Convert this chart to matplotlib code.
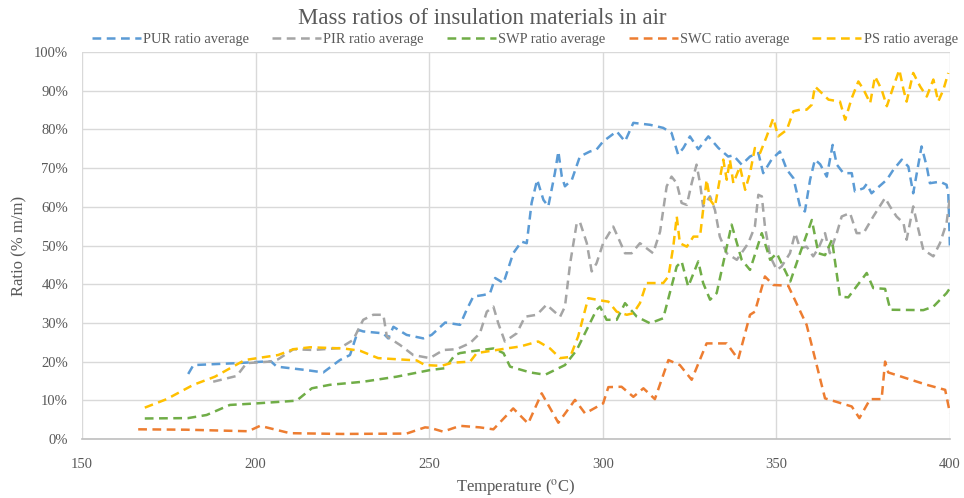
import matplotlib.pyplot as plt
from matplotlib.ticker import PercentFormatter

# temperature (C) and ratio (%), one pair of lists per material
pur_t = [180.6, 182.1, 194.6, 202.2, 204.5, 206.1, 214.7, 219.5, 224.3, 227.2, 229.6, 231.0, 236.8, 238.2,
         239.7, 243.5, 248.3, 250.7, 254.6, 258.9, 260.8, 262.7, 265.6, 267.5, 269.0, 271.4, 274.2, 276.6,
         278.1, 279.5, 281.1, 282.9, 284.3, 286.2, 287.2, 288.2, 289.1, 291.1, 293.4, 296.3, 298.2, 300.1,
         304.0, 306.4, 308.8, 313.6, 317.4, 319.8, 321.7, 323.2, 325.1, 327.5, 330.4, 333.3, 336.1, 337.6,
         340.0, 342.4, 344.8, 346.2, 348.6, 351.0, 353.0, 354.9, 356.8, 358.2, 359.7, 361.1, 362.6, 364.5,
         366.2, 367.4, 369.3, 371.7, 372.6, 375.1, 376.0, 377.4, 379.0, 381.8, 383.7, 386.1, 388.0, 389.4,
         391.8, 393.3, 394.2, 397.1, 399.0, 399.5, 400.0]
pur_v = [16.8, 19.1, 19.6, 20.0, 20.0, 18.7, 17.8, 17.2, 20.4, 21.7, 28.2, 27.8, 27.3, 26.0,
         29.0, 26.9, 26.0, 26.9, 30.1, 29.5, 33.4, 36.8, 37.2, 37.6, 41.6, 40.3, 48.0, 51.0,
         50.6, 61.0, 67.0, 61.8, 60.1, 68.7, 74.3, 67.8, 65.3, 67.0, 73.0, 74.3, 74.8, 76.9,
         79.5, 76.9, 81.7, 81.2, 80.4, 79.1, 73.5, 75.2, 78.2, 74.9, 78.2, 75.2, 73.0, 73.3,
         70.9, 73.0, 73.9, 68.7, 72.2, 74.3, 69.6, 67.4, 60.1, 58.8, 67.0, 72.2, 71.0, 67.8,
         76.0, 70.9, 68.7, 68.7, 64.0, 64.8, 65.9, 63.5, 64.8, 67.0, 69.6, 72.2, 70.4, 63.5,
         75.6, 70.4, 66.1, 66.5, 65.7, 63.5, 48.9]

pir_t = [187.8, 194.6, 197.4, 204.1, 206.5, 210.9, 216.6, 224.3, 228.1, 231.0, 233.9, 236.8, 237.8, 241.6,
         245.4, 250.2, 254.1, 257.9, 261.8, 264.6, 266.6, 268.5, 269.9, 271.8, 275.2, 277.6, 281.0, 283.8,
         287.7, 289.1, 290.6, 292.5, 293.4, 295.4, 296.8, 298.2, 300.1, 303.0, 304.5, 306.4, 308.3, 310.7,
         314.5, 316.5, 318.4, 319.8, 321.3, 322.7, 324.2, 325.6, 327.0, 328.0, 328.9, 330.9, 332.3, 333.7,
         335.7, 338.6, 341.9, 343.8, 344.8, 345.8, 346.7, 348.2, 350.1, 351.5, 353.9, 355.4, 356.8, 358.7,
         360.6, 362.1, 364.0, 365.4, 367.4, 368.8, 371.2, 373.1, 375.1, 377.9, 381.3, 382.7, 384.6, 386.6,
         387.5, 389.4, 390.9, 392.3, 395.2, 397.1, 399.0, 400.0]
pir_v = [14.8, 16.3, 19.6, 20.0, 20.6, 23.2, 23.0, 23.5, 25.6, 30.8, 32.1, 32.1, 26.5, 24.3,
         21.7, 20.9, 23.0, 23.2, 24.8, 27.3, 32.9, 34.2, 29.9, 25.2, 27.3, 31.6, 32.1, 34.7,
         31.6, 34.2, 45.4, 55.8, 56.1, 50.6, 43.3, 45.4, 50.6, 54.9, 51.9, 48.0, 48.0, 50.6,
         48.0, 53.6, 65.3, 67.8, 66.1, 61.0, 60.5, 66.1, 70.9, 66.1, 60.1, 62.7, 59.2, 52.3,
         48.0, 46.3, 50.6, 54.9, 63.1, 62.7, 54.9, 47.2, 43.7, 44.6, 48.0, 53.2, 49.3, 49.7,
         47.2, 49.3, 53.2, 48.0, 53.2, 57.5, 58.4, 53.2, 53.2, 57.5, 62.3, 60.1, 57.5, 55.8,
         51.5, 60.1, 54.1, 48.9, 47.2, 50.6, 55.8, 62.7]

swp_t = [168.1, 180.6, 185.9, 192.6, 200.3, 211.8, 216.2, 221.4, 231.0, 240.6, 250.2, 254.6, 257.4, 258.9,
         261.8, 268.5, 271.4, 273.3, 279.1, 283.4, 289.1, 292.5, 298.2, 299.2, 301.1, 304.0, 306.4, 309.8,
         313.6, 317.4, 321.3, 322.7, 324.6, 327.5, 328.9, 330.9, 332.8, 337.1, 340.0, 342.4, 345.8, 348.2,
         350.1, 354.0, 356.8, 360.2, 362.1, 364.0, 366.0, 368.3, 370.7, 376.0, 377.9, 381.3, 382.8, 392.3,
         395.2, 399.0, 400.0]
swp_v = [5.3, 5.4, 6.2, 8.8, 9.2, 9.9, 13.1, 14.0, 14.8, 16.1, 17.8, 18.3, 21.7, 22.2,
         22.6, 23.4, 22.2, 18.7, 17.2, 16.6, 19.1, 23.0, 33.4, 34.2, 30.8, 30.8, 35.1, 31.6,
         29.9, 31.2, 44.6, 45.9, 39.4, 45.9, 40.3, 36.0, 37.7, 55.4, 46.3, 43.7, 53.2, 46.3,
         48.0, 40.7, 48.0, 56.6, 48.0, 47.5, 51.5, 36.8, 36.6, 42.9, 39.0, 38.8, 33.4, 33.3,
         34.2, 37.7, 39.0]

swc_t = [166.2, 180.0, 197.9, 201.3, 209.9, 225.0, 243.5, 248.8, 250.2, 254.0, 258.9, 264.6, 268.5, 274.2,
         278.5, 282.4, 287.2, 292.0, 294.9, 300.1, 301.6, 305.4, 308.8, 311.7, 315.0, 318.9, 322.2, 325.6,
         329.9, 335.7, 339.0, 342.4, 343.8, 346.7, 349.1, 353.4, 358.7, 364.0, 371.7, 373.9, 377.0, 380.3,
         381.3, 382.2, 393.3, 398.6, 400.0]
swc_v = [2.5, 2.4, 2.0, 3.4, 1.5, 1.3, 1.4, 3.0, 2.9, 1.9, 3.4, 3.0, 2.5, 7.9,
         4.0, 11.8, 4.2, 10.1, 6.6, 9.2, 13.4, 13.5, 10.9, 13.1, 10.3, 20.4, 19.1, 15.3,
         24.7, 24.7, 20.6, 32.1, 32.9, 42.0, 39.8, 39.6, 29.5, 10.5, 8.4, 5.4, 10.3, 10.3,
         20.0, 17.2, 14.0, 12.7, 6.6]

ps_t = [168.1, 174.4, 182.1, 188.3, 196.9, 206.5, 210.9, 215.7, 225.3, 230.1, 235.3, 246.4, 248.8, 253.6,
        256.5, 261.8, 263.7, 272.3, 276.2, 281.4, 284.8, 287.7, 290.6, 292.9, 295.8, 300.1, 301.6, 304.0,
        306.9, 308.8, 310.7, 312.6, 317.4, 318.9, 320.3, 321.3, 322.2, 324.2, 326.1, 328.0, 329.9, 330.9,
        332.3, 334.7, 335.7, 336.6, 337.6, 339.5, 341.0, 342.4, 343.8, 345.3, 347.2, 349.1, 350.5, 353.0,
        354.9, 356.8, 358.7, 360.2, 361.1, 362.6, 365.0, 368.3, 369.8, 371.7, 373.6, 375.1, 377.0, 378.4,
        380.3, 381.8, 383.7, 385.4, 386.6, 387.5, 389.4, 391.4, 393.3, 395.2, 396.6, 398.1, 399.5]
ps_v = [8.1, 10.3, 14.0, 16.1, 20.4, 21.7, 23.2, 23.7, 23.4, 22.8, 20.9, 20.3, 19.1, 18.9,
        19.7, 20.0, 22.2, 23.4, 23.9, 25.2, 23.4, 20.9, 21.2, 26.5, 36.4, 35.7, 35.5, 32.9,
        32.1, 32.5, 35.1, 40.3, 40.3, 42.0, 49.7, 57.5, 50.6, 49.7, 52.3, 52.3, 67.0, 61.8,
        60.1, 72.2, 67.0, 72.2, 66.1, 70.4, 64.4, 68.7, 75.2, 73.9, 78.2, 82.9, 78.2, 79.9,
        84.7, 85.1, 85.1, 86.4, 91.1, 89.8, 87.7, 87.2, 82.5, 88.1, 92.4, 90.3, 86.8, 93.7,
        90.3, 86.0, 91.1, 95.4, 90.3, 87.2, 94.6, 91.1, 88.5, 92.9, 87.2, 90.3, 94.6]

series = [
    (pur_t, pur_v, "PUR ratio average", "#5B9BD5"),
    (pir_t, pir_v, "PIR ratio average", "#A5A5A5"),
    (swp_t, swp_v, "SWP ratio average", "#70AD47"),
    (swc_t, swc_v, "SWC ratio average", "#ED7D31"),
    (ps_t, ps_v, "PS ratio average", "#FFC000"),
]

plt.rcParams['font.family'] = ['Liberation Serif', 'DejaVu Serif']
plt.rcParams['mathtext.fontset'] = 'stix'
txt = "#595959"

fig = plt.figure(figsize=(9.64, 4.98), dpi=100)
ax = fig.add_axes([0.085, 0.1185, 0.9005, 0.777])

for t, v, lab, col in series:
    ax.plot(t, v, color=col, lw=1.8, dashes=(3.5, 2.2), label=lab)

ax.set_xlim(150, 400)
ax.set_ylim(0, 100)
ax.set_xticks(range(150, 401, 50))
ax.set_yticks(range(0, 101, 10))
ax.yaxis.set_major_formatter(PercentFormatter(decimals=0))
ax.grid(True, color="#d9d9d9", lw=1)
ax.set_axisbelow(True)
for s in ["top", "right", "left"]:
    ax.spines[s].set_visible(False)
ax.spines["bottom"].set_color("#bfbfbf")
ax.spines["bottom"].set_linewidth(1.2)
ax.tick_params(length=0, labelsize=10.5, labelcolor=txt, pad=10)
ax.tick_params(axis='x', pad=14)

ax.set_xlabel(r"Temperature ($^{\rm o}$C)", fontsize=12, color=txt, labelpad=4)
ax.set_ylabel("Ratio (% m/m)", fontsize=12, color=txt, labelpad=5)
fig.text(0.5, 0.963, "Mass ratios of insulation materials in air", ha="center", va="center",
         fontsize=16.5, color=txt)

ax.legend(loc="lower center", bbox_to_anchor=(0.51, 1.0), ncol=5, frameon=False,
          fontsize=10.4, handlelength=3.4, columnspacing=1.6, handletextpad=0.15,
          labelcolor=txt, borderaxespad=0)

fig.savefig("out.png", dpi=100)
